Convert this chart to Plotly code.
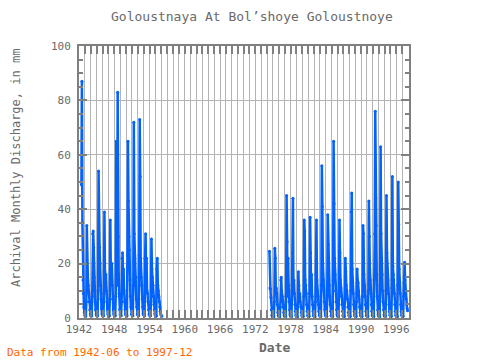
import pandas as pd
import plotly.graph_objects as go

# Monthly discharge (mm), first record period: 1942-06 .. 1956-02
start_1 = "1942-06-01"
values_1 = [
    49, 87, 35, 14, 9, 4, 2,                            # 1942 Jun-Dec
    1.0, 0.6, 0.7, 6, 34, 17, 16, 12, 9, 6, 3, 1.5,     # 1943
    1.0, 0.6, 0.8, 8, 31, 32, 26, 15, 10, 6, 3, 1.5,    # 1944
    1.0, 0.6, 0.8, 10, 54, 27, 26, 20, 12, 7, 3.5, 1.5, # 1945
    1.0, 0.7, 0.8, 9, 39, 17, 14, 16, 10, 6, 3, 1.5,    # 1946
    1.0, 0.6, 0.8, 7, 36, 17, 13, 20, 12, 7, 3, 1.5,    # 1947
    1.0, 0.7, 0.8, 8, 65, 24, 12, 83, 30, 16, 9, 3,     # 1948
    1.2, 0.8, 0.8, 6, 22, 24, 14, 18, 10, 6, 3, 1.5,    # 1949
    1.0, 0.6, 0.8, 23, 65, 43, 30, 25, 14, 8, 4, 1.5,   # 1950
    1.2, 0.8, 0.8, 12, 72, 31, 22, 13, 15, 7, 4, 1.5,   # 1951
    1.2, 0.8, 0.8, 23, 73, 52, 22, 15, 12, 7, 4, 1.5,   # 1952
    1.2, 0.8, 0.8, 22, 31, 18, 22, 10, 9, 6, 3, 1.5,    # 1953
    1.1, 0.7, 0.8, 6, 29, 18, 15, 12, 8, 5, 3, 1.5,     # 1954
    1.0, 0.6, 0.8, 18, 22, 12, 10, 8, 6, 4, 2.5, 1.5,   # 1955
    1.0, 0.6,                                           # 1956 Jan-Feb
]

# Second record period: 1974-06 .. 1997-12
start_2 = "1974-06-01"
values_2 = [
    24.5, 11, 10.6, 7.6, 3, 1, 0.5,                     # 1974 Jun-Dec
    0.4, 0.3, 0.5, 6, 25.6, 22, 10, 11, 9, 5, 2, 1,     # 1975
    0.6, 0.4, 0.5, 4, 14, 15, 10, 8, 6, 4, 2, 1,        # 1976
    0.6, 0.4, 0.6, 8, 45, 28, 8, 22, 12, 6, 3, 1.2,     # 1977
    0.7, 0.5, 0.6, 10, 24, 44, 10, 14, 9, 5, 2.5, 1,    # 1978
    0.6, 0.4, 0.5, 5, 17, 12, 8, 9, 6, 4, 2, 1,         # 1979
    0.6, 0.4, 0.6, 8, 36, 32, 14, 12, 9, 5, 2.5, 1,     # 1980
    0.6, 0.5, 0.6, 9, 37, 24, 12, 16, 8, 5, 2.5, 1,     # 1981
    0.6, 0.4, 0.5, 6, 16, 36, 14, 10, 8, 5, 2.5, 1,     # 1982
    0.7, 0.5, 0.6, 12, 56, 41, 20, 14, 10, 6, 3, 1.2,   # 1983
    0.7, 0.5, 0.6, 9, 38, 27, 14, 12, 8, 5, 2.5, 1,     # 1984
    0.7, 0.5, 0.6, 14, 65, 42, 22, 16, 10, 6, 3, 1.2,   # 1985
    0.7, 0.5, 0.6, 9, 36, 24, 14, 11, 8, 5, 2.5, 1,     # 1986
    0.6, 0.4, 0.6, 7, 22, 17, 12, 10, 7, 4, 2, 1,       # 1987
    0.7, 0.5, 0.6, 10, 39, 46, 18, 13, 9, 5, 2.5, 1,    # 1988
    0.6, 0.4, 0.6, 6, 18, 14, 13, 10, 7, 4, 2, 1,       # 1989
    0.6, 0.4, 0.6, 8, 34, 31, 16, 12, 8, 5, 2.5, 1,     # 1990
    0.6, 0.5, 0.6, 10, 43, 30, 18, 14, 9, 5, 2.5, 1,    # 1991
    0.7, 0.5, 0.6, 14, 31, 76, 44, 34, 16, 8, 3, 1.2,   # 1992
    0.7, 0.5, 0.6, 12, 63, 31, 20, 16, 10, 6, 3, 1.2,   # 1993
    0.7, 0.5, 0.6, 10, 45, 24, 18, 14, 9, 5, 2.5, 1,    # 1994
    0.7, 0.5, 0.6, 11, 52, 19, 16, 14, 9, 5, 2.5, 1,    # 1995
    0.7, 0.5, 0.6, 12, 50, 34.5, 18, 13, 9, 5, 2.5, 1,  # 1996
    0.7, 0.5, 0.6, 8, 13, 20.5, 14, 10, 7, 5, 3.5, 2.7, # 1997
]

title_text = "Goloustnaya At Bol\u2019shoye Goloustnoye"
y_title = "Archival Monthly Discharge, in mm"
x_title = "Date"
footer = "Data from 1942-06 to 1997-12"

dates_1 = pd.date_range(start_1, periods=len(values_1), freq="MS")
dates_2 = pd.date_range(start_2, periods=len(values_2), freq="MS")

LINE = "#0062ff"
GRAY = "#808080"
TXT = "#6a6a6a"
FONT = "DejaVu Sans Mono"

fig = go.Figure()
for d, v in ((dates_1, values_1), (dates_2, values_2)):
    fig.add_trace(go.Scatter(
        x=d, y=v, mode="lines+markers",
        line=dict(color=LINE, width=2.5),
        marker=dict(color=LINE, size=3),
        showlegend=False, hoverinfo="skip",
    ))

fig.update_layout(
    width=480, height=360,
    margin=dict(l=79, r=71, t=46, b=42),
    paper_bgcolor="white", plot_bgcolor="white",
    font=dict(family=FONT, size=11, color=TXT),
    showlegend=False,
)

fig.update_xaxes(
    type="date",
    range=["1942-01-01", "1998-03-01"],
    tick0="1942-01-01", dtick="M72", tickformat="%Y",
    ticks="inside", ticklen=8, tickwidth=2, tickcolor=GRAY,
    showline=True, linecolor=GRAY, linewidth=2, mirror="allticks",
    showgrid=True, gridcolor="#b4b4b4", gridwidth=1,
    minor=dict(dtick="M12", tick0="1942-01-01", ticks="inside", ticklen=8,
               tickwidth=2, tickcolor=GRAY, showgrid=True,
               gridcolor="#b4b4b4", gridwidth=1),
    tickfont=dict(family=FONT, size=11, color=TXT),
    zeroline=False,
)
fig.update_yaxes(
    range=[0, 100], dtick=20, tick0=0,
    ticks="inside", ticklen=8, tickwidth=2, tickcolor=GRAY,
    showline=True, linecolor=GRAY, linewidth=2, mirror="allticks",
    showgrid=True, gridcolor="#b4b4b4", gridwidth=1,
    minor=dict(dtick=5, ticks="inside", ticklen=4, tickwidth=2,
               tickcolor=GRAY, showgrid=False),
    tickfont=dict(family=FONT, size=11, color=TXT),
    ticklabelstandoff=4,
    zeroline=False,
)

fig.add_annotation(text=title_text, xref="paper", yref="paper",
                   x=0.524, y=1.107, xanchor="center", yanchor="middle",
                   showarrow=False, font=dict(family=FONT, size=13, color=TXT))
fig.add_annotation(text=y_title, xref="paper", yref="paper",
                   x=-0.189, y=0.55, xanchor="center", yanchor="middle",
                   textangle=-90, showarrow=False,
                   font=dict(family=FONT, size=12, color=TXT))
fig.add_annotation(text="<b>" + x_title + "</b>", xref="paper", yref="paper",
                   x=0.591, y=-0.107, xanchor="center", yanchor="middle",
                   showarrow=False, font=dict(family=FONT, size=13, color=TXT))
fig.add_annotation(text=footer, xref="paper", yref="paper",
                   x=-0.224, y=-0.125, xanchor="left", yanchor="middle",
                   showarrow=False, font=dict(family=FONT, size=11, color="#ff6600"))

fig.write_html("out.html", config={"displayModeBar": False},
               post_script="document.body.style.margin='0';document.body.style.overflow='hidden';")
